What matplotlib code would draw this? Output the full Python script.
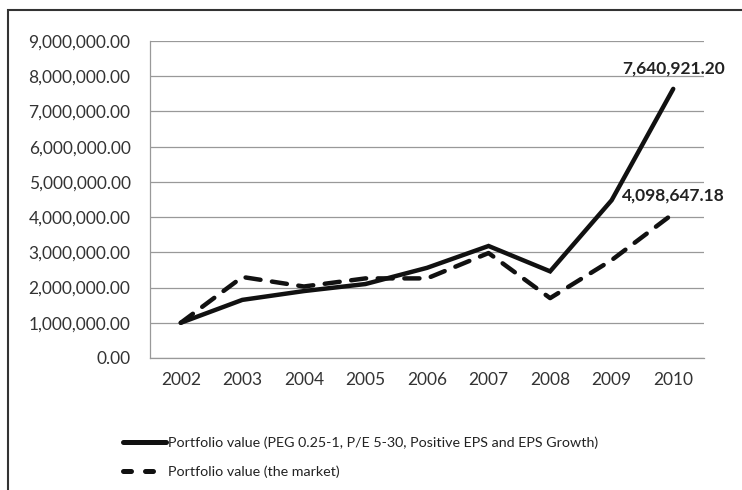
import matplotlib.pyplot as plt
from matplotlib.patches import Rectangle
from matplotlib.ticker import FuncFormatter
from matplotlib.lines import Line2D

plt.rcParams['font.family'] = ['Lato', 'DejaVu Sans']

years = ['2002', '2003', '2004', '2005', '2006', '2007', '2008', '2009', '2010']
peg_portfolio = [1000000, 1650000, 1900000, 2100000, 2560000, 3180000, 2460000, 4480000, 7640921.20]
market_portfolio = [1000000, 2300000, 2030000, 2260000, 2260000, 2980000, 1700000, 2780000, 4098647.18]
peg_label = 'Portfolio value (PEG 0.25-1, P/E 5-30, Positive EPS and EPS Growth)'
market_label = 'Portfolio value (the market)'

fig = plt.figure(figsize=(7.42, 4.9), dpi=100)
ax = fig.add_axes([150 / 742, 1 - 358 / 490, 554 / 742, 317 / 490])

x = range(len(years))
ax.plot(x, peg_portfolio, color='#111111', lw=3.2, solid_capstyle='round', solid_joinstyle='miter')
ax.plot(x, market_portfolio, color='#111111', lw=3.2, dashes=(3.4, 2.6), dash_capstyle='round')

ax.annotate(f'{peg_portfolio[-1]:,.2f}', (8, peg_portfolio[-1]), xytext=(0, 9), textcoords='offset points',
            ha='center', va='bottom', fontsize=12.5, fontweight='bold', color='#222222')
ax.annotate(f'{market_portfolio[-1]:,.2f}', (8, market_portfolio[-1]), xytext=(0, 7), textcoords='offset points',
            ha='center', va='bottom', fontsize=12.5, fontweight='bold', color='#222222')

ax.set_xlim(-0.5, 8.5)
ax.set_ylim(0, 9000000)
ax.set_yticks(range(0, 9000001, 1000000))
ax.set_xticks(list(x))
ax.set_xticklabels(years)
ax.yaxis.set_major_formatter(FuncFormatter(lambda v, p: f'{v:,.2f}'))
ax.tick_params(length=0, labelsize=12.5, colors='#333333', pad=14)
ax.tick_params(axis='x', pad=10)
ax.grid(axis='y', color='#999999', lw=0.9)
ax.set_axisbelow(True)
for s in ['top', 'right']:
    ax.spines[s].set_visible(False)
for s in ['left', 'bottom']:
    ax.spines[s].set_color('#999999')
    ax.spines[s].set_linewidth(0.9)

handles = [Line2D([], [], color='#111111', lw=3.6, solid_capstyle='round'),
           Line2D([], [], color='#111111', lw=3.6, dashes=(1.6, 2.8), dash_capstyle='round')]
fig.legend(handles, [peg_label, market_label], loc='upper left', bbox_to_anchor=(110 / 742, 1 - 424 / 490),
           frameon=False, fontsize=10.3, handlelength=3.0, handletextpad=0.15, labelspacing=1.1,
           labelcolor='#222222')

fig.patches.append(Rectangle((8 / 742, -0.1), 1.2, 1 - 10 / 490 + 0.1, transform=fig.transFigure,
                             fill=False, edgecolor='#333333', lw=1.5))

fig.savefig('out.png', dpi=100)
